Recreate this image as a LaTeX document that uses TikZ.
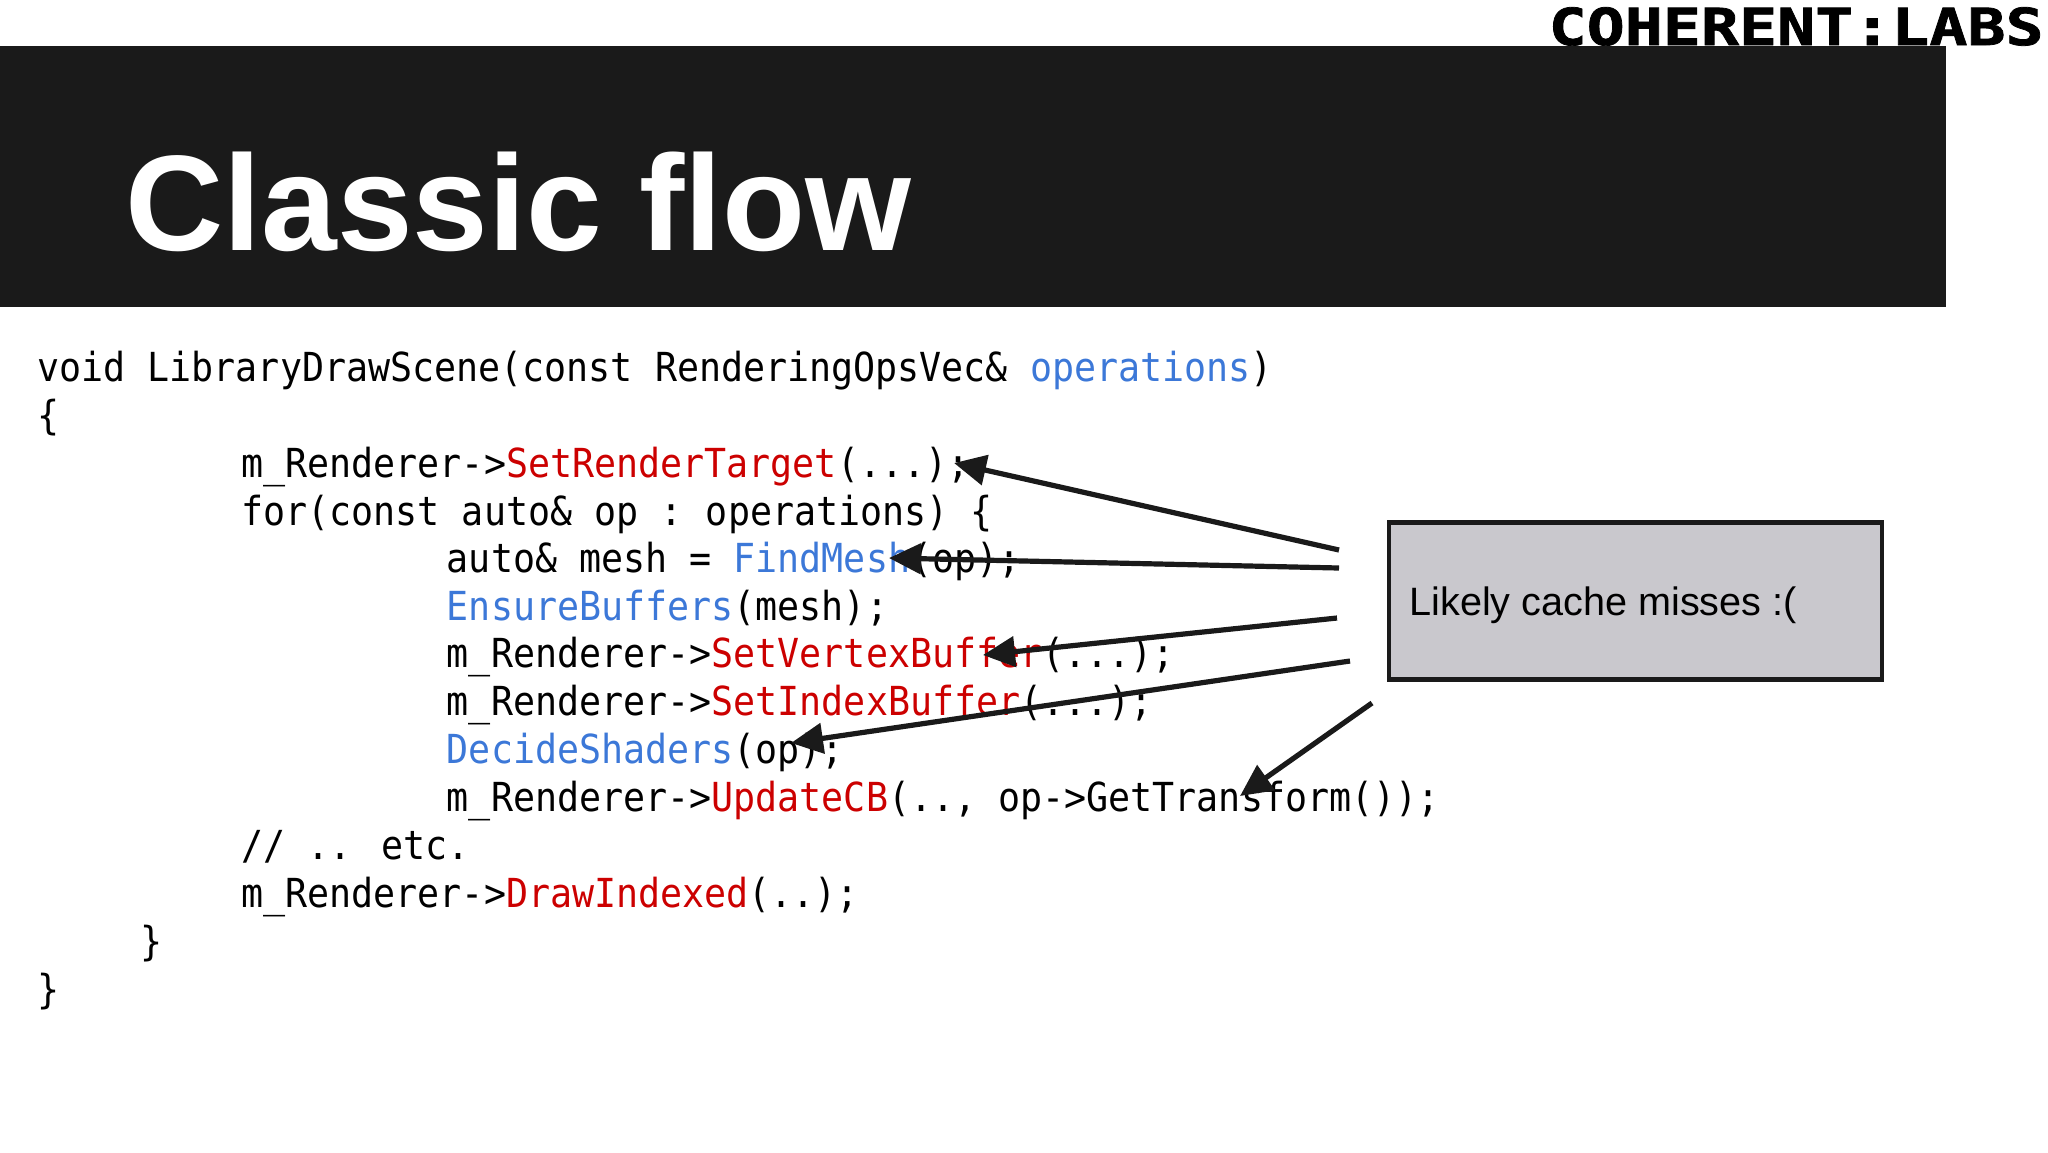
\documentclass[tikz,border=0pt]{standalone}
\usepackage{fontspec}
\usetikzlibrary{arrows.meta}
\setmainfont{Liberation Sans}
\newfontfamily\codefont[FakeStretch=0.916]{DejaVu Sans Mono}
\newfontfamily\logofont[FakeStretch=1.24,FakeBold=1.5]{DejaVu Sans Mono Bold}
\definecolor{band}{HTML}{1A1A1A}
\definecolor{boxfill}{HTML}{C9C8CD}
\definecolor{kred}{HTML}{CC0000}
\definecolor{kblue}{HTML}{3C78D8}
\newcommand{\rd}[1]{\textcolor{kred}{#1}}
\newcommand{\bl}[1]{\textcolor{kblue}{#1}}
\tikzset{
  code/.style={anchor=base west,inner sep=0pt,font=\codefont\fontsize{20}{24}\selectfont,text=black},
  callout/.style={draw=band,line width=2.4pt,fill=boxfill,inner sep=0pt,minimum width=246.5pt,minimum height=78.5pt},
  miss/.style={draw=band,line width=2.6pt,-{Triangle[length=16pt,width=15pt]}}
}
\begin{document}
\begin{tikzpicture}[x=0.5pt,y=-0.5pt]
\useasboundingbox (0,0) rectangle (2048,1152);
\fill[white] (0,0) rectangle (2048,1152);
\node[anchor=base east,inner sep=0pt,font=\logofont\fontsize{25.5}{30}\selectfont] (logo) at (2044,45) {COHERENT:LABS};
\fill[band] (0,46) rectangle (1946,307);
\node[anchor=base west,inner sep=0pt,text=white,font=\fontsize{68}{80}\selectfont\bfseries] (title) at (125,250) {Classic flow};
\node[code] (l1) at (37,381) {void LibraryDrawScene(const RenderingOpsVec\& \bl{operations})};
\node[code] (l2) at (37,429) {\{};
\node[code] (l3) at (241,477) {m\_Renderer->\rd{SetRenderTarget}(...);};
\node[code] (l4) at (241,525) {for(const auto\& op : \kern-3pt operations) \{};
\node[code] (l5) at (446.5,572) {auto\& mesh = \bl{FindMesh}(op);};
\node[code] (l6) at (446.5,620) {\bl{EnsureBuffers}(mesh);};
\node[code] (l7) at (446.5,667.5) {m\_Renderer->\rd{SetVertexBuffer}(...);};
\node[code] (l8) at (446.5,715) {m\_Renderer->\rd{SetIndexBuffer}(...);};
\node[code] (l9) at (446.5,763) {\bl{DecideShaders}(op);};
\node[code] (l10) at (446.5,811) {m\_Renderer->\rd{UpdateCB}(.., op->GetTransform());};
\node[code] (l11) at (241,859) {// .. etc.};
\node[code] (l12) at (241,907) {m\_Renderer->\rd{DrawIndexed}(..);};
\node[code] (l13) at (140,955) {\}};
\node[code] (l14) at (37,1003) {\}};
\node[callout,anchor=north west] (box) at (1386.5,520) {};
\node[anchor=base west,inner sep=0pt,font=\fontsize{19.8}{24}\selectfont] (boxtext) at (1409,615) {Likely cache misses :(};
\coordinate (s1) at (1339,550);
\coordinate (t1) at (954,463);
\coordinate (s2) at (1339,568);
\coordinate (t2) at (889,558);
\coordinate (s3) at (1337,618);
\coordinate (t3) at (983,655);
\coordinate (s4) at (1350,661);
\coordinate (t4) at (791,743);
\coordinate (s5) at (1372,703);
\coordinate (t5) at (1240,796);
\draw[miss] (s1) -- (t1);
\draw[miss] (s2) -- (t2);
\draw[miss] (s3) -- (t3);
\draw[miss] (s4) -- (t4);
\draw[miss] (s5) -- (t5);
\end{tikzpicture}
\end{document}
